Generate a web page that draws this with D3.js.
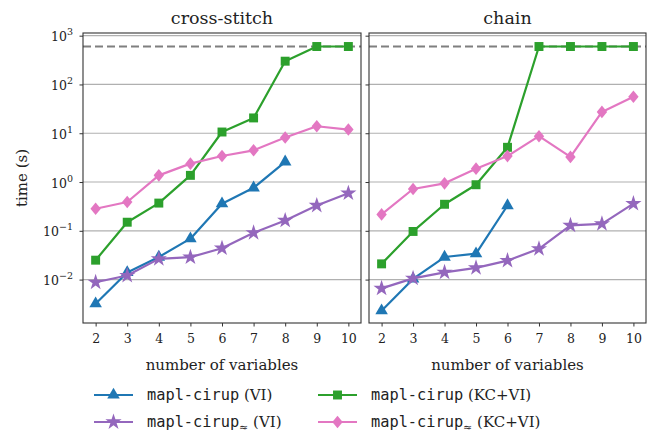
<!DOCTYPE html>
<html><head><meta charset="utf-8">
<script src="https://cdn.jsdelivr.net/npm/d3@7"></script>
<style>
body{margin:0;background:#fff;}
svg{display:block;}
</style></head>
<body><svg id="c" width="653" height="437"></svg>
<script>
const xs = [2,3,4,5,6,7,8,9,10];
const timeout = 600;
const panels = ["cross-stitch","chain"];
const yTicks = [-2,-1,0,1,2,3];
// cross-stitch
const csVI      = [0.0032,0.014,0.029,0.069,0.36,0.76,2.6];
const csKCVI    = [0.025,0.15,0.37,1.37,10.6,20.6,300,600,600];
const csApproxVI   = [0.0088,0.0121,0.0266,0.0288,0.044,0.091,0.163,0.33,0.59];
const csApproxKCVI = [0.283,0.39,1.37,2.38,3.42,4.47,8.2,13.9,11.9];
// chain
const chVI      = [0.0023,0.0103,0.029,0.034,0.33];
const chKCVI    = [0.021,0.097,0.35,0.88,5.15,600,600,600,600];
const chApproxVI   = [0.0066,0.0106,0.0141,0.0174,0.0245,0.0427,0.129,0.139,0.36];
const chApproxKCVI = [0.217,0.72,0.94,1.88,3.4,8.7,3.27,27.4,55.8];

const colors = {"VI":"#1f77b4","KC+VI":"#2ca02c","approxVI":"#9467bd","approxKCVI":"#e377c2"};
const markers = {"VI":"triangle","KC+VI":"square","approxVI":"star","approxKCVI":"diamond"};
const data = [
  {"VI":csVI,"KC+VI":csKCVI,"approxVI":csApproxVI,"approxKCVI":csApproxKCVI},
  {"VI":chVI,"KC+VI":chKCVI,"approxVI":chApproxVI,"approxKCVI":chApproxKCVI}
];
const drawOrder = ["VI","KC+VI","approxVI","approxKCVI"];
const SERIF = "'DejaVu Serif', serif";
const MONO = "'DejaVu Sans Mono', monospace";

const svg = d3.select("#c");
const plotTop = 33, plotBottom = 323;
const panelX = [[83,361],[369,646]];
const y = d3.scaleLog().domain([Math.pow(10,-2.89),Math.pow(10,3.055)]).range([plotBottom,plotTop]);

function markerPath(type){
  if(type==="triangle") return d3.symbol(d3.symbolTriangle, 68)();
  if(type==="square") return d3.symbol(d3.symbolSquare, 80)();
  if(type==="star") return d3.symbol(d3.symbolStar, 82)();
  if(type==="diamond") return "M0,-6.3L5.2,0L0,6.3L-5.2,0Z";
}

panels.forEach((name,pi)=>{
  const [x0,x1] = panelX[pi];
  const x = d3.scaleLinear().domain([1.6,10.4]).range([x0,x1]);
  const g = svg.append("g");
  const cid = "clip"+pi;
  svg.append("clipPath").attr("id",cid).append("rect").attr("x",x0).attr("y",plotTop).attr("width",x1-x0).attr("height",plotBottom-plotTop);
  g.selectAll(".grid").data(yTicks).enter().append("line")
    .attr("x1",x0).attr("x2",x1)
    .attr("y1",d=>y(Math.pow(10,d))).attr("y2",d=>y(Math.pow(10,d)))
    .attr("stroke","#b0b0b0").attr("stroke-width",1.2);
  g.append("line").attr("x1",x0).attr("x2",x1).attr("y1",y(timeout)).attr("y2",y(timeout))
    .attr("stroke","#7f7f7f").attr("stroke-width",2.2).attr("stroke-dasharray","8,4");
  const pg = g.append("g").attr("clip-path",`url(#${cid})`);
  drawOrder.forEach(s=>{
    const vals = data[pi][s];
    const pts = vals.map((v,i)=>[xs[i],v]);
    pg.append("path").datum(pts)
      .attr("d",d3.line().x(d=>x(d[0])).y(d=>y(d[1])))
      .attr("fill","none").attr("stroke",colors[s]).attr("stroke-width",2.2).attr("stroke-linejoin","round");
    pg.selectAll(null).data(pts).enter().append("path")
      .attr("d",markerPath(markers[s]))
      .attr("transform",d=>`translate(${x(d[0])},${y(d[1])})`)
      .attr("fill",colors[s]);
  });
  g.append("rect").attr("x",x0).attr("y",plotTop).attr("width",x1-x0).attr("height",plotBottom-plotTop)
    .attr("fill","none").attr("stroke","#333").attr("stroke-width",1.1);
  const xa = g.append("g").attr("transform",`translate(0,${plotBottom})`)
    .call(d3.axisBottom(x).tickValues(xs).tickSize(3.5).tickPadding(8).tickFormat(d3.format("d")));
  xa.attr("font-family",null).attr("font-size",null);
  xa.select(".domain").remove();
  xa.selectAll("line").attr("stroke","#333");
  xa.selectAll("text").style("font-family",SERIF).style("font-size","12.5px").attr("fill","#222");
  const ya = g.append("g").attr("transform",`translate(${x0},0)`)
    .call(d3.axisLeft(y).tickValues(yTicks.map(t=>Math.pow(10,t))).tickSize(3.5).tickFormat(""));
  ya.select(".domain").remove();
  ya.selectAll("line").attr("stroke","#333");
  if(pi===0){
    yTicks.forEach(t=>{
      const tx = g.append("text").attr("x",x0-10).attr("y",y(Math.pow(10,t))+5.5)
        .attr("text-anchor","end").style("font-family",SERIF).style("font-size","12.5px").attr("fill","#222");
      tx.append("tspan").text("10");
      tx.append("tspan").attr("dy",-6).style("font-size","9.5px").text(t<0?"\u2212"+(-t):String(t));
    });
    svg.append("text").attr("transform",`translate(22,${(plotTop+plotBottom)/2}) rotate(-90)`)
      .attr("text-anchor","middle").attr("dy","0.35em").style("font-family",SERIF).style("font-size","15px").attr("fill","#222").text("time (s)");
  }
  svg.append("text").attr("x",(x0+x1)/2).attr("y",24)
    .attr("text-anchor","middle").style("font-family",SERIF).style("font-size","17.5px").attr("fill","#222").text(name);
  svg.append("text").attr("x",(x0+x1)/2).attr("y",370)
    .attr("text-anchor","middle").style("font-family",SERIF).style("font-size","15px").attr("fill","#222").text("number of variables");
});

const legendItems = [
  {s:"VI",col:0,row:0,approx:false,suffix:"(VI)"},
  {s:"KC+VI",col:1,row:0,approx:false,suffix:"(KC+VI)"},
  {s:"approxVI",col:0,row:1,approx:true,suffix:"(VI)"},
  {s:"approxKCVI",col:1,row:1,approx:true,suffix:"(KC+VI)"}
];
const legX = [94,318], legY = [395,422];
legendItems.forEach(it=>{
  const lx = legX[it.col], ly = legY[it.row];
  const lg = svg.append("g");
  lg.append("line").attr("x1",lx).attr("x2",lx+39).attr("y1",ly).attr("y2",ly)
    .attr("stroke",colors[it.s]).attr("stroke-width",2.2);
  lg.append("path").attr("d",markerPath(markers[it.s])).attr("transform",`translate(${lx+19.5},${ly})`).attr("fill",colors[it.s]);
  const t = lg.append("text").attr("x",lx+53).attr("y",ly+5).attr("fill","#222");
  t.append("tspan").style("font-family",MONO).style("font-size","15.3px").text("mapl-cirup");
  if(it.approx) t.append("tspan").style("font-family",SERIF).attr("dy",4).style("font-size","11px").text("\u2248");
  t.append("tspan").style("font-family",SERIF).style("font-size","15px").attr("dy",it.approx?-4:0).text(" "+it.suffix);
});
</script></body></html>
